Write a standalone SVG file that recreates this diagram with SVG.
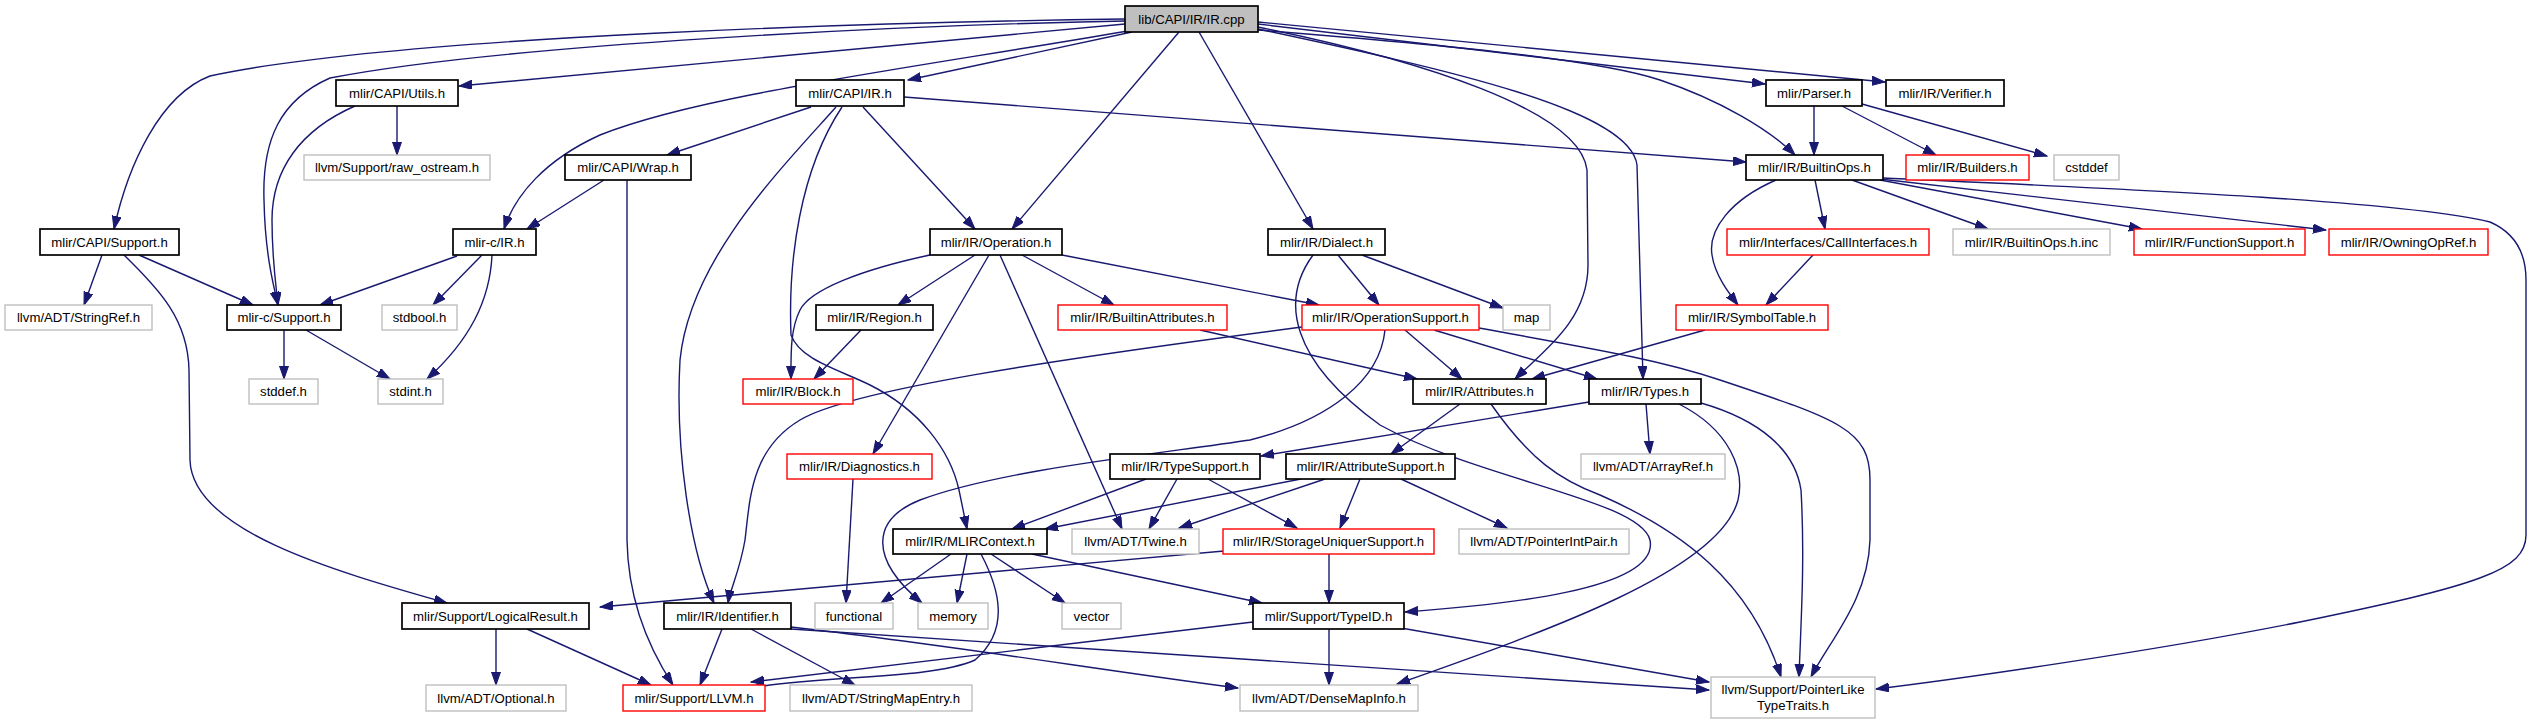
<svg xmlns="http://www.w3.org/2000/svg" width="2534" height="724" viewBox="0 0 2534 724">
<style>
rect{fill:#fff;stroke-width:1.4}
.k{stroke:#000;stroke-width:1.7}
.r{stroke:#ff0000}
.g{stroke:#bfbfbf}
.root{fill:#bfbfbf;stroke:#000;stroke-width:1.7}
text{font-family:"Liberation Sans",Arial,sans-serif;font-size:13.2px;fill:#000;text-anchor:middle}
#edges path{fill:none;stroke:#191970;stroke-width:1.4;marker-end:url(#a)}
</style>
<defs>
<marker id="a" markerUnits="userSpaceOnUse" markerWidth="14" markerHeight="10" refX="13" refY="4.5" orient="auto"><path d="M0,0 L13,4.5 L0,9 z" fill="#191970" stroke="#191970" stroke-width="1"/></marker>
</defs>
<rect width="2534" height="724" style="fill:#fff;stroke:none"/>
<g id="edges">
<path d="M1125,19 C900,22 400,35 210,76 C160,95 128,165 114,229"/>
<path d="M1125,21 C900,25 500,45 330,78 C280,100 262,140 264,200 C265,250 272,280 278,305"/>
<path d="M1125,24 L459,86"/>
<path d="M1128,31 C900,70 700,95 600,135 C545,160 515,195 504,229"/>
<path d="M1132,32 L908,80"/>
<path d="M1179,32 L1012,229"/>
<path d="M1199,32 L1313,229"/>
<path d="M1258,27 C1420,60 1580,110 1587,170 L1588,265 C1588,320 1545,350 1515,379"/>
<path d="M1258,29 C1450,70 1630,110 1637,165 L1643,379"/>
<path d="M1258,30 C1450,45 1600,60 1660,80 C1720,100 1770,130 1795,155"/>
<path d="M1258,24 L1765,84"/>
<path d="M1258,22 L1885,82"/>
<path d="M397,106 L397,155"/>
<path d="M355,106 C300,130 272,170 272,220 C272,260 276,285 278,305"/>
<path d="M811,107 L667,155"/>
<path d="M904,97 L1746,162"/>
<path d="M863,107 L975,229"/>
<path d="M836,107 C780,170 690,260 680,360 C675,450 690,550 714,603"/>
<path d="M842,107 C800,170 788,260 791,335 C800,360 840,370 870,385 C920,410 950,450 959,490 L967,529"/>
<path d="M604,180 L527,229"/>
<path d="M627,180 L627,540 C628,600 650,650 673,685"/>
<path d="M102,255 L84,305"/>
<path d="M139,255 L253,305"/>
<path d="M124,255 C160,290 188,320 189,370 L190,460 C192,530 330,570 447,603"/>
<path d="M457,256 L320,305"/>
<path d="M482,255 L433,305"/>
<path d="M492,255 C490,300 470,340 427,379"/>
<path d="M284,330 L284,379"/>
<path d="M306,330 L390,379"/>
<path d="M930,255 C860,270 810,290 800,310 C790,330 791,355 791,379"/>
<path d="M975,255 L898,305"/>
<path d="M989,255 L873,454"/>
<path d="M1000,255 L1122,529"/>
<path d="M1022,255 L1114,305"/>
<path d="M1062,255 L1319,305"/>
<path d="M861,330 L814,379"/>
<path d="M853,479 L846,603"/>
<path d="M1200,330 L1417,379"/>
<path d="M1338,255 L1379,305"/>
<path d="M1362,255 L1503,308"/>
<path d="M1313,255 C1280,300 1290,360 1380,425 C1480,480 1640,500 1650,540 C1660,590 1500,605 1405,612"/>
<path d="M1776,180 C1730,200 1708,230 1712,255 C1715,275 1728,292 1738,305"/>
<path d="M1815,180 L1825,229"/>
<path d="M1852,180 L1988,229"/>
<path d="M1880,180 L2142,229"/>
<path d="M1880,179 L2326,230"/>
<path d="M1883,178 C2100,188 2400,200 2490,222 C2520,235 2526,260 2526,280 L2526,535 C2526,570 2480,585 2300,622 C2150,652 1950,680 1876,689"/>
<path d="M1813,255 L1766,305"/>
<path d="M1814,106 L1814,155"/>
<path d="M1842,106 L1936,155"/>
<path d="M1862,104 L2047,156"/>
<path d="M1405,330 L1462,379"/>
<path d="M1434,330 L1597,379"/>
<path d="M1479,328 C1600,350 1660,360 1720,380 C1840,420 1870,430 1870,480 L1870,540 C1868,600 1830,640 1811,677"/>
<path d="M1302,327 C1050,360 850,390 800,420 C750,450 750,500 745,540 C740,570 730,590 728,603"/>
<path d="M1385,330 C1380,380 1330,420 1250,440 C1150,455 1000,470 920,500 C870,520 870,560 922,603"/>
<path d="M1460,404 L1391,454"/>
<path d="M1491,404 C1530,460 1560,480 1600,495 C1680,530 1750,580 1781,677"/>
<path d="M1589,402 L1261,456"/>
<path d="M1646,404 L1650,454"/>
<path d="M1679,404 C1730,430 1745,470 1738,500 C1720,570 1550,630 1397,684"/>
<path d="M1701,403 C1760,420 1795,450 1801,490 C1805,560 1801,620 1799,677"/>
<path d="M1705,330 L1532,379"/>
<path d="M1146,479 L1012,529"/>
<path d="M1177,479 L1149,529"/>
<path d="M1208,479 L1297,528"/>
<path d="M1301,479 L1045,529"/>
<path d="M1325,479 L1179,528"/>
<path d="M1360,479 L1340,528"/>
<path d="M1401,479 L1507,528"/>
<path d="M951,554 L881,603"/>
<path d="M967,554 L957,603"/>
<path d="M991,554 L1065,603"/>
<path d="M981,554 C1000,590 1010,630 975,660 C930,680 820,675 751,688"/>
<path d="M1032,554 L1262,603"/>
<path d="M1329,554 L1329,603"/>
<path d="M1224,551 L600,607"/>
<path d="M496,629 L496,685"/>
<path d="M527,629 L651,685"/>
<path d="M722,629 L700,685"/>
<path d="M751,629 L855,685"/>
<path d="M791,627 C950,645 1100,670 1238,688"/>
<path d="M791,629 L1709,690"/>
<path d="M1329,629 L1329,685"/>
<path d="M1401,628 L1709,682"/>
<path d="M1253,622 L751,682"/>
</g>
<g id="n_root"><rect class="root" x="1125" y="6" width="133" height="26"/><text x="1191.5" y="23.5">lib/CAPI/IR/IR.cpp</text></g>
<g id="n_utils"><rect class="k" x="336" y="80" width="122" height="26"/><text x="397" y="97.5">mlir/CAPI/Utils.h</text></g>
<g id="n_capiir"><rect class="k" x="796" y="80" width="108" height="26"/><text x="850" y="97.5">mlir/CAPI/IR.h</text></g>
<g id="n_parser"><rect class="k" x="1766" y="80" width="96" height="26"/><text x="1814" y="97.5">mlir/Parser.h</text></g>
<g id="n_verifier"><rect class="k" x="1886" y="80" width="118" height="26"/><text x="1945" y="97.5">mlir/IR/Verifier.h</text></g>
<g id="n_rawostream"><rect class="g" x="304" y="155" width="186" height="25"/><text x="397" y="172">llvm/Support/raw_ostream.h</text></g>
<g id="n_wrap"><rect class="k" x="565" y="155" width="126" height="25"/><text x="628" y="172">mlir/CAPI/Wrap.h</text></g>
<g id="n_builtinops"><rect class="k" x="1746" y="155" width="137" height="25"/><text x="1814.5" y="172">mlir/IR/BuiltinOps.h</text></g>
<g id="n_builders"><rect class="r" x="1906" y="155" width="123" height="25"/><text x="1967.5" y="172">mlir/IR/Builders.h</text></g>
<g id="n_cstddef"><rect class="g" x="2054" y="155" width="65" height="25"/><text x="2086.5" y="172">cstddef</text></g>
<g id="n_capisupport"><rect class="k" x="40" y="229" width="139" height="26"/><text x="109.5" y="246.5">mlir/CAPI/Support.h</text></g>
<g id="n_cir"><rect class="k" x="453" y="229" width="83" height="26"/><text x="494.5" y="246.5">mlir-c/IR.h</text></g>
<g id="n_operation"><rect class="k" x="930" y="229" width="132" height="26"/><text x="996" y="246.5">mlir/IR/Operation.h</text></g>
<g id="n_dialect"><rect class="k" x="1268" y="229" width="117" height="26"/><text x="1326.5" y="246.5">mlir/IR/Dialect.h</text></g>
<g id="n_callinterfaces"><rect class="r" x="1727" y="229" width="202" height="26"/><text x="1828" y="246.5">mlir/Interfaces/CallInterfaces.h</text></g>
<g id="n_builtinopsinc"><rect class="g" x="1953" y="229" width="157" height="26"/><text x="2031.5" y="246.5">mlir/IR/BuiltinOps.h.inc</text></g>
<g id="n_functionsupport"><rect class="r" x="2134" y="229" width="171" height="26"/><text x="2219.5" y="246.5">mlir/IR/FunctionSupport.h</text></g>
<g id="n_owningopref"><rect class="r" x="2329" y="229" width="159" height="26"/><text x="2408.5" y="246.5">mlir/IR/OwningOpRef.h</text></g>
<g id="n_stringref"><rect class="g" x="5" y="305" width="147" height="25"/><text x="78.5" y="322">llvm/ADT/StringRef.h</text></g>
<g id="n_csupport"><rect class="k" x="227" y="305" width="114" height="25"/><text x="284" y="322">mlir-c/Support.h</text></g>
<g id="n_stdbool"><rect class="g" x="382" y="305" width="75" height="25"/><text x="419.5" y="322">stdbool.h</text></g>
<g id="n_region"><rect class="k" x="816" y="305" width="117" height="25"/><text x="874.5" y="322">mlir/IR/Region.h</text></g>
<g id="n_builtinattributes"><rect class="r" x="1058" y="305" width="169" height="25"/><text x="1142.5" y="322">mlir/IR/BuiltinAttributes.h</text></g>
<g id="n_operationsupport"><rect class="r" x="1302" y="305" width="177" height="25"/><text x="1390.5" y="322">mlir/IR/OperationSupport.h</text></g>
<g id="n_map"><rect class="g" x="1503" y="305" width="47" height="25"/><text x="1526.5" y="322">map</text></g>
<g id="n_symboltable"><rect class="r" x="1676" y="305" width="152" height="25"/><text x="1752" y="322">mlir/IR/SymbolTable.h</text></g>
<g id="n_stddef"><rect class="g" x="249" y="379" width="69" height="25"/><text x="283.5" y="396">stddef.h</text></g>
<g id="n_stdint"><rect class="g" x="378" y="379" width="65" height="25"/><text x="410.5" y="396">stdint.h</text></g>
<g id="n_block"><rect class="r" x="743" y="379" width="110" height="25"/><text x="798" y="396">mlir/IR/Block.h</text></g>
<g id="n_attributes"><rect class="k" x="1413" y="379" width="133" height="25"/><text x="1479.5" y="396">mlir/IR/Attributes.h</text></g>
<g id="n_types"><rect class="k" x="1589" y="379" width="112" height="25"/><text x="1645" y="396">mlir/IR/Types.h</text></g>
<g id="n_diagnostics"><rect class="r" x="787" y="454" width="145" height="25"/><text x="859.5" y="471">mlir/IR/Diagnostics.h</text></g>
<g id="n_typesupport"><rect class="k" x="1110" y="454" width="150" height="25"/><text x="1185" y="471">mlir/IR/TypeSupport.h</text></g>
<g id="n_attributesupport"><rect class="k" x="1286" y="454" width="169" height="25"/><text x="1370.5" y="471">mlir/IR/AttributeSupport.h</text></g>
<g id="n_arrayref"><rect class="g" x="1581" y="454" width="144" height="25"/><text x="1653" y="471">llvm/ADT/ArrayRef.h</text></g>
<g id="n_mlircontext"><rect class="k" x="893" y="529" width="154" height="25"/><text x="970" y="546">mlir/IR/MLIRContext.h</text></g>
<g id="n_twine"><rect class="g" x="1072" y="529" width="127" height="25"/><text x="1135.5" y="546">llvm/ADT/Twine.h</text></g>
<g id="n_storageuniquer"><rect class="r" x="1223" y="529" width="211" height="25"/><text x="1328.5" y="546">mlir/IR/StorageUniquerSupport.h</text></g>
<g id="n_pointerintpair"><rect class="g" x="1459" y="529" width="170" height="25"/><text x="1544" y="546">llvm/ADT/PointerIntPair.h</text></g>
<g id="n_logicalresult"><rect class="k" x="402" y="603" width="187" height="26"/><text x="495.5" y="620.5">mlir/Support/LogicalResult.h</text></g>
<g id="n_identifier"><rect class="k" x="664" y="603" width="127" height="26"/><text x="727.5" y="620.5">mlir/IR/Identifier.h</text></g>
<g id="n_functional"><rect class="g" x="815" y="603" width="78" height="26"/><text x="854" y="620.5">functional</text></g>
<g id="n_memory"><rect class="g" x="918" y="603" width="70" height="26"/><text x="953" y="620.5">memory</text></g>
<g id="n_vector"><rect class="g" x="1062" y="603" width="59" height="26"/><text x="1091.5" y="620.5">vector</text></g>
<g id="n_typeid"><rect class="k" x="1253" y="603" width="151" height="26"/><text x="1328.5" y="620.5">mlir/Support/TypeID.h</text></g>
<g id="n_optional"><rect class="g" x="426" y="685" width="140" height="26"/><text x="496" y="702.5">llvm/ADT/Optional.h</text></g>
<g id="n_llvm"><rect class="r" x="623" y="685" width="142" height="26"/><text x="694" y="702.5">mlir/Support/LLVM.h</text></g>
<g id="n_stringmapentry"><rect class="g" x="790" y="685" width="182" height="26"/><text x="881" y="702.5">llvm/ADT/StringMapEntry.h</text></g>
<g id="n_densemapinfo"><rect class="g" x="1240" y="685" width="178" height="26"/><text x="1329" y="702.5">llvm/ADT/DenseMapInfo.h</text></g>
<g id="n_pointerlike"><rect class="g" x="1711" y="677" width="164" height="41"/><text x="1793" y="694">llvm/Support/PointerLike</text><text x="1793" y="710">TypeTraits.h</text></g>
</svg>
